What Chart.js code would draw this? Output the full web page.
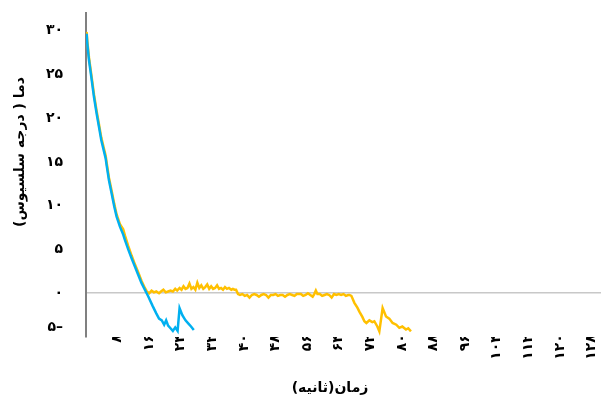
<!DOCTYPE html>
<html lang="fa">
<head>
<meta charset="utf-8">
<title>دما</title>
<script src="https://cdn.jsdelivr.net/npm/chart.js@4.4.1/dist/chart.umd.min.js"></script>
<style>
  html, body { margin: 0; padding: 0; background: #ffffff; }
  #wrap { position: relative; width: 602px; height: 400px; }
</style>
</head>
<body>
<div id="wrap"><canvas id="chart"></canvas></div>
<script>
// Sample number (row index) and temperature for the two runs
const blueTime = [1, 19, 34, 77, 135, 203, 271, 329, 387, 456, 499, 524, 582, 650, 716, 776, 860, 943, 986, 1070, 1155, 1239, 1322, 1408, 1491, 1575,
  1693, 1780, 1850, 1920, 1980, 2030, 2080, 2140, 2200, 2260, 2320, 2370, 2440, 2520, 2600, 2660, 2730];
const blueTemp = [29.6, 29.5, 28.5, 26.6, 24.7, 22.4, 20.5, 19.0, 17.5, 16.2, 15.4, 14.6, 12.9, 11.4, 9.9, 8.75, 7.6, 6.7, 6.1, 5.0, 4.0, 3.05, 2.1, 1.15, 0.4, -0.35,
  -1.5, -2.3, -2.9, -3.1, -3.6, -3.1, -3.7, -4.0, -4.3, -3.9, -4.3, -1.7, -2.5, -3.1, -3.5, -3.8, -4.2];

const orangeTime = [1, 19, 34, 77, 135, 203, 271, 329, 387, 456, 499, 524, 582, 650, 716, 776, 860, 943, 986, 1070, 1155, 1239, 1322, 1408, 1491,
  1540, 1600, 1660, 1720, 1780, 1850, 1900, 1960, 2020, 2080, 2140, 2200, 2260, 2310, 2370, 2420, 2470, 2520, 2570, 2620, 2670, 2720, 2770, 2820,
  2870, 2920, 2970, 3020, 3070, 3120, 3170, 3220, 3270, 3320, 3370, 3420, 3470, 3520, 3570, 3620, 3680, 3720, 3760, 3800, 3850,
  3900, 3960, 4020, 4080, 4140, 4200, 4260, 4320, 4380, 4440, 4500, 4560, 4620, 4680, 4740, 4800, 4860, 4920, 4980, 5040, 5100, 5160,
  5220, 5280, 5340, 5400, 5440, 5500, 5560, 5620, 5680, 5740, 5780, 5820, 5860, 5920, 5980, 6040, 6100, 6160, 6220, 6280, 6340, 6400,
  6460, 6520, 6580, 6640, 6670, 6720, 6796, 6872, 6922, 6998, 7049, 7100, 7175, 7250, 7301, 7377, 7428, 7511, 7597, 7680, 7763, 7857,
  7933, 8009, 8102, 8160, 8228];
const orangeTemp = [29.8, 29.7, 28.8, 26.9, 25.0, 22.7, 20.8, 19.3, 17.8, 16.5, 15.7, 14.9, 13.2, 11.7, 10.2, 9.0, 7.9, 7.3, 6.6, 5.4, 4.3, 3.3, 2.4, 1.4, 0.6,
  0.2, 0.0, 0.3, 0.1, 0.2, 0.0, 0.2, 0.4, 0.1, 0.2, 0.3, 0.2, 0.5, 0.3, 0.6, 0.4, 0.8, 0.5, 0.6, 1.1, 0.5, 0.7, 0.4, 1.2,
  0.6, 0.9, 0.5, 0.7, 1.0, 0.5, 0.8, 0.5, 0.6, 0.9, 0.5, 0.6, 0.4, 0.7, 0.5, 0.6, 0.4, 0.5, 0.4, 0.4, -0.1,
  -0.2, -0.1, -0.3, -0.2, -0.5, -0.2, -0.1, -0.2, -0.4, -0.2, -0.1, -0.2, -0.5, -0.2, -0.2, -0.1, -0.3, -0.2, -0.2, -0.4, -0.2, -0.1,
  -0.2, -0.3, -0.1, -0.1, -0.1, -0.3, -0.2, 0.0, -0.2, -0.4, -0.1, 0.3, -0.1, -0.1, -0.3, -0.2, -0.1, -0.2, -0.5, -0.1, -0.2, -0.1,
  -0.2, -0.1, -0.3, -0.2, -0.2, -0.3, -1.1, -1.65, -2.1, -2.7, -3.2, -3.4, -3.1, -3.3, -3.2, -3.8, -4.35, -1.7, -2.65, -2.9, -3.4, -3.6,
  -3.95, -3.8, -4.15, -4.0, -4.35];

// Axis ticks
const xTickValues = [1, 801, 1601, 2401, 3201, 4001, 4801, 5601, 6401, 7201, 8001, 8801, 9601, 10401, 11201, 12001, 12801];
const yTickValues = [-5, 0, 5, 10, 15, 20, 25, 30];

const xTitle = 'زمان(ثانیه)';
const yTitle = 'دما ( درجه سلسیوس)';

const faDigits = '۰۱۲۳۴۵۶۷۸۹';
const toFa = n => String(n).replace(/\d/g, d => faDigits[d]);

const FONT = '"DejaVu Sans", sans-serif';

const axisTitles = {
  id: 'axisTitles',
  afterDraw(chart) {
    const ctx = chart.ctx;
    ctx.save();
    ctx.fillStyle = '#000000';
    ctx.font = 'bold 14px ' + FONT;
    ctx.direction = 'rtl';
    ctx.textAlign = 'center';
    ctx.textBaseline = 'middle';
    ctx.fillText(xTitle, 330, 388);
    ctx.translate(20, 152);
    ctx.rotate(-Math.PI / 2);
    ctx.fillText(yTitle, 0, 0);
    ctx.restore();
  }
};

new Chart(document.getElementById('chart'), {
  type: 'line',
  data: {
    datasets: [
      {
        label: 'blue',
        data: blueTime.map((t, i) => ({ x: t, y: blueTemp[i] })),
        borderColor: '#00B0F0',
        borderWidth: 2.5,
        pointRadius: 0,
        tension: 0
      },
      {
        label: 'orange',
        data: orangeTime.map((t, i) => ({ x: t, y: orangeTemp[i] })),
        borderColor: '#FFC000',
        borderWidth: 2.5,
        pointRadius: 0,
        tension: 0
      }
    ]
  },
  options: {
    responsive: true,
    maintainAspectRatio: false,
    animation: false,
    layout: { padding: { top: 13, right: 1, bottom: 0, left: 0 } },
    plugins: { legend: { display: false }, tooltip: { enabled: false } },
    scales: {
      x: {
        type: 'linear',
        min: 1,
        max: 13040,
        afterBuildTicks: s => { s.ticks = xTickValues.map(v => ({ value: v })); },
        afterFit: s => { s.height = 63; },
        grid: { display: false, drawTicks: false },
        border: { display: false },
        ticks: {
          autoSkip: false,
          minRotation: 90,
          maxRotation: 90,
          padding: -20,
          color: '#000000',
          font: { family: FONT, size: 14, weight: 'bold' },
          callback: v => toFa(v)
        }
      },
      y: {
        min: -5,
        max: 32,
        afterBuildTicks: s => { s.ticks = yTickValues.map(v => ({ value: v })); },
        afterFit: s => { s.width = 86; },
        grid: {
          drawTicks: true,
          tickLength: 23,
          tickColor: 'rgba(0,0,0,0)',
          lineWidth: 1.5,
          color: c => (c.tick && c.tick.value === 0 ? '#C8C8C8' : 'rgba(0,0,0,0)')
        },
        border: { display: true, color: '#808080', width: 2 },
        ticks: {
          padding: 0,
          color: '#000000',
          font: { family: FONT, size: 14, weight: 'bold', lineHeight: 1.4 },
          callback: v => (v < 0 ? [toFa(-v) + '–', ''] : toFa(v))
        }
      }
    }
  },
  plugins: [axisTitles]
});
</script>
</body>
</html>
